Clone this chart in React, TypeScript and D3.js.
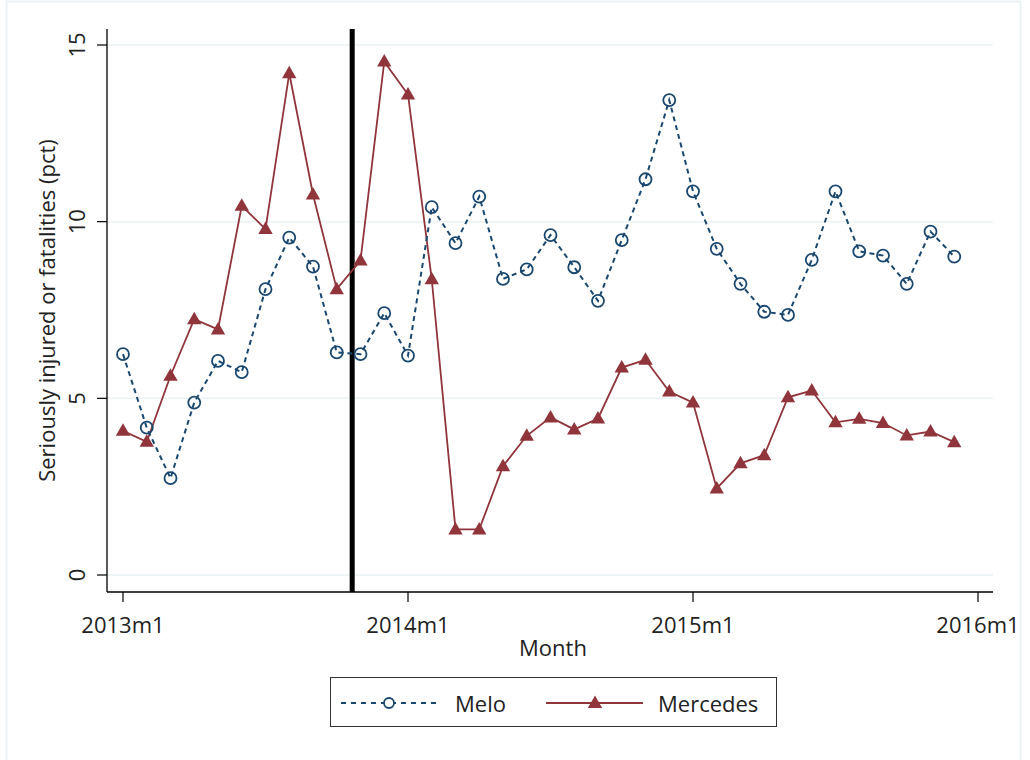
import React from "react";
import * as d3 from "d3";

// Monthly share of seriously injured or fatal cases, 2013m1–2015m12
const months: number[] = Array.from({ length: 36 }, (_, i) => i);

const meloValues: number[] = [
  6.25, 4.17, 2.74, 4.88, 6.06, 5.74, 8.09, 9.55, 8.73, 6.3, 6.25, 7.41,
  6.21, 10.41, 9.39, 10.71, 8.38, 8.65, 9.62, 8.71, 7.76, 9.48, 11.2, 13.44,
  10.86, 9.23, 8.24, 7.45, 7.36, 8.92, 10.86, 9.16, 9.04, 8.24, 9.72, 9.01,
];

const mercedesValues: number[] = [
  4.08, 3.77, 5.64, 7.24, 6.95, 10.45, 9.79, 14.2, 10.77, 8.09, 8.9, 14.53,
  13.6, 8.37, 1.29, 1.29, 3.08, 3.94, 4.46, 4.12, 4.43, 5.87, 6.09, 5.19,
  4.88, 2.45, 3.16, 3.39, 5.03, 5.22, 4.32, 4.42, 4.3, 3.95, 4.06, 3.76,
];

const yTicks: number[] = [0, 5, 10, 15];
const xTicks: number[] = [0, 12, 24, 36];
const xTickLabels: string[] = ["2013m1", "2014m1", "2015m1", "2016m1"];

// Month (fractional, counted from 2013m1) of the marked event
const eventMonth = 9.65;

const MELO = "#1a476f";
const MERC = "#90353b";
const GRID = "#eaf2f3";
const TEXT = "#222222";
const FONT = "'Open Sans', 'Noto Sans', sans-serif";

const x = d3.scaleLinear().domain([0, 36]).range([123, 978]);
const y = d3.scaleLinear().domain([0, 15]).range([575, 45]);

const plotLeft = 107;
const plotRight = 993;
const plotTop = 29;
const plotBottom = 592;

const triPath = "M0,-7.5 L7.2,5 L-7.2,5 Z";

export default function App() {
  const line = d3
    .line<number>()
    .x((_, i) => x(months[i]))
    .y((d) => y(d));

  return (
    <svg
      width={1030}
      height={760}
      style={{ position: "absolute", left: 0, top: 0, background: "#fff" }}
      fontFamily={FONT}
    >
      <rect x={0} y={0} width={1030} height={760} fill="#fff" />
      <rect x={6.5} y={1.5} width={1014} height={770} fill="none" stroke={GRID} strokeWidth={2} />

      {/* gridlines */}
      {yTicks.map((t) => (
        <line key={"g" + t} x1={plotLeft} x2={plotRight} y1={y(t)} y2={y(t)} stroke={GRID} strokeWidth={1.5} />
      ))}

      {/* axes */}
      <line x1={plotLeft} x2={plotLeft} y1={plotTop} y2={plotBottom} stroke="#000" strokeWidth={1.3} />
      <line x1={plotLeft} x2={plotRight} y1={plotBottom} y2={plotBottom} stroke="#000" strokeWidth={1.3} />

      {yTicks.map((t) => (
        <g key={"yt" + t}>
          <line x1={97} x2={plotLeft} y1={y(t)} y2={y(t)} stroke="#000" strokeWidth={1.2} />
          <text
            transform={`translate(85,${y(t)}) rotate(-90)`}
            textAnchor="middle"
            fontSize={22}
            fill={TEXT}
          >
            {t}
          </text>
        </g>
      ))}

      {xTicks.map((t, i) => (
        <g key={"xt" + t}>
          <line x1={x(t)} x2={x(t)} y1={plotBottom} y2={plotBottom + 10} stroke="#000" strokeWidth={1.2} />
          <text x={x(t)} y={633} textAnchor="middle" fontSize={22} fill={TEXT}>
            {xTickLabels[i]}
          </text>
        </g>
      ))}

      <text x={553} y={656} textAnchor="middle" fontSize={22} fill={TEXT}>
        Month
      </text>
      <text
        transform={`translate(55,${(plotTop + plotBottom) / 2}) rotate(-90)`}
        textAnchor="middle"
        fontSize={22}
        fill={TEXT}
      >
        Seriously injured or fatalities (pct)
      </text>

      {/* event marker */}
      <line x1={x(eventMonth)} x2={x(eventMonth)} y1={plotTop} y2={plotBottom} stroke="#000" strokeWidth={5} />

      {/* Mercedes */}
      <path d={line(mercedesValues) || ""} fill="none" stroke={MERC} strokeWidth={1.8} />
      {mercedesValues.map((v, i) => (
        <path key={"m" + i} d={triPath} transform={`translate(${x(months[i])},${y(v)})`} fill={MERC} />
      ))}

      {/* Melo */}
      <path d={line(meloValues) || ""} fill="none" stroke={MELO} strokeWidth={2} strokeDasharray="5,4" />
      {meloValues.map((v, i) => (
        <circle key={"c" + i} cx={x(months[i])} cy={y(v)} r={6} fill="none" stroke={MELO} strokeWidth={1.8} />
      ))}

      {/* legend */}
      <rect x={330.5} y={677.5} width={446} height={49} fill="#fff" stroke="#333" strokeWidth={1} />
      <line x1={341} x2={436} y1={703} y2={703} stroke={MELO} strokeWidth={2} strokeDasharray="5,5" />
      <circle cx={389} cy={703} r={5} fill="#fff" stroke={MELO} strokeWidth={1.8} />
      <text x={455} y={712} fontSize={22} fill={TEXT}>
        Melo
      </text>
      <line x1={546} x2={643} y1={703} y2={703} stroke={MERC} strokeWidth={1.8} />
      <path d={triPath} transform="translate(595,703)" fill={MERC} />
      <text x={658} y={712} fontSize={22} fill={TEXT}>
        Mercedes
      </text>
    </svg>
  );
}
